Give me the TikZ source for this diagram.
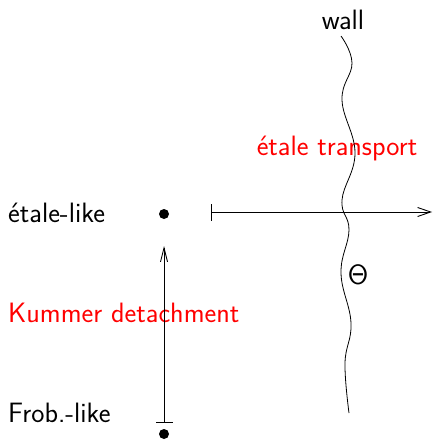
\documentclass[tikz,border=0pt]{standalone}
\usetikzlibrary{arrows.meta}
\begin{document}
\begin{tikzpicture}[x=1pt,y=-1pt,
  lbl/.style={font=\sffamily\fontsize{28}{33}\selectfont, inner sep=0pt},
  redlbl/.style={lbl, text=red},
  dot/.style={circle, fill=black, inner sep=0pt, minimum size=10pt},
  conn/.style={line width=0.9pt}]
\useasboundingbox (0,0) rectangle (433,441);
% labels
\node[lbl] (wall) at (343,20) {wall};
\node[redlbl] (et) at (337,149) {étale transport};
\node[lbl, anchor=west] (el) at (8,213) {étale-like};
\node[redlbl, anchor=west] (kd) at (8,313) {Kummer detachment};
\node[lbl, anchor=west] (fl) at (8,413) {Frob.-like};
\node[lbl] (theta) at (358,275) {Θ};
% dots
\node[dot] (d1) at (164,214) {};
\node[dot] (d2) at (164,434) {};
% wall curve
\draw[line width=0.8pt] plot[smooth, tension=0.7] coordinates {(341,36) (352,63) (342,100) (355,153) (342,200) (349,230) (341,273) (351,323) (345,363) (349,413)};
% horizontal arrow
\coordinate (hs) at (211,212);
\coordinate (he) at (432,212);
\draw[conn, {Bar[width=17pt,line width=0.9pt]}-{Straight Barb[length=13pt,width=9pt,line width=0.9pt]}] (hs) -- (he);
% vertical arrow
\coordinate (vs) at (164,423);
\coordinate (ve) at (164,246);
\draw[conn, {Bar[width=17pt,line width=0.9pt]}-{Straight Barb[length=14pt,width=7pt,line width=0.9pt]}] (vs) -- (ve);
\end{tikzpicture}
\end{document}
